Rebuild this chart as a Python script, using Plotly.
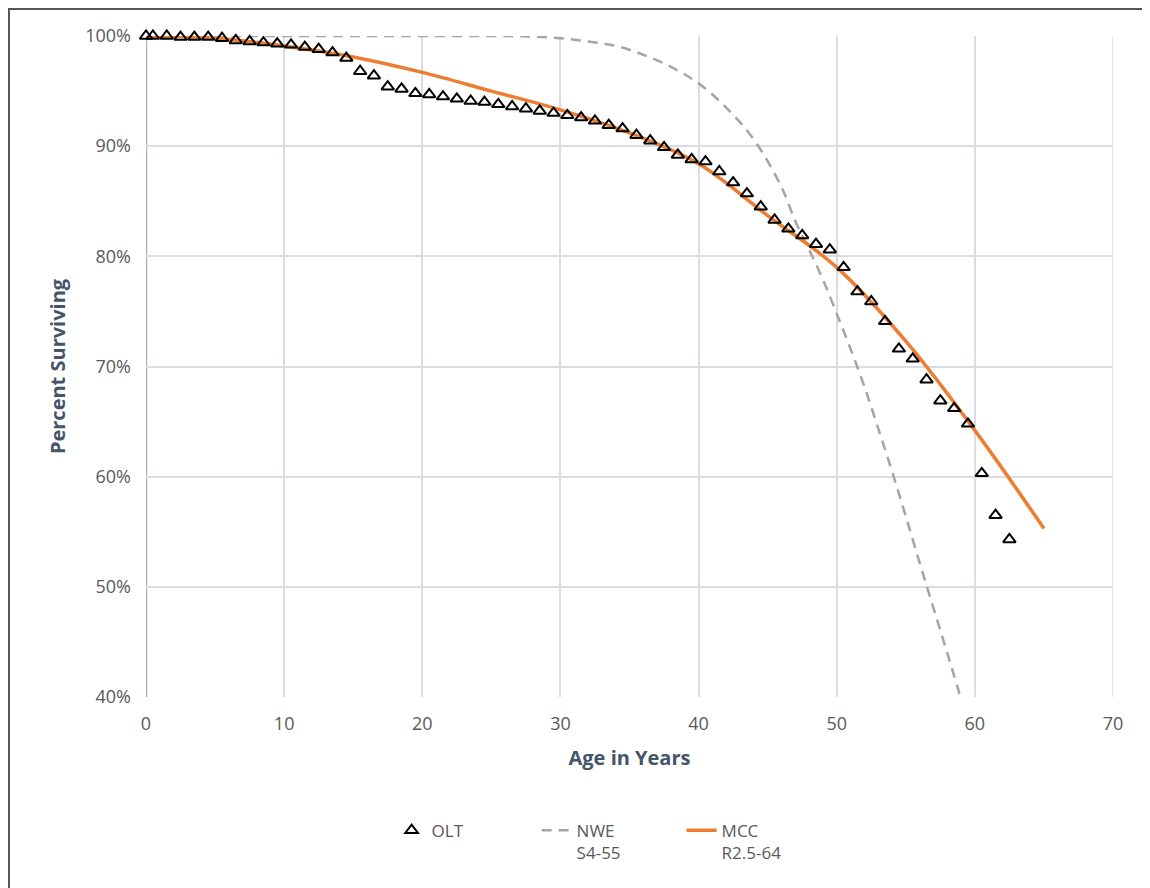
import plotly.graph_objects as go

# OLT observed life table points
olt_age = [0, 0.5] + [i + 0.5 for i in range(1, 63)]
olt_pct = [100.0, 100.0, 100.0, 99.9, 99.9, 99.9, 99.8, 99.6, 99.5, 99.4, 99.3, 99.2, 99.0, 98.8, 98.5, 98.0,
           96.8, 96.4, 95.4, 95.2, 94.8, 94.7, 94.5, 94.3, 94.1, 94.0, 93.8, 93.6, 93.4, 93.2, 93.0,
           92.8, 92.6, 92.3, 91.9, 91.6, 91.0, 90.5, 89.9, 89.2, 88.8, 88.6, 87.7, 86.7, 85.7, 84.5,
           83.3, 82.5, 81.9, 81.1, 80.6, 79.0, 76.8, 75.9, 74.1, 71.6, 70.7, 68.8, 66.9, 66.2, 64.8,
           60.3, 56.5, 54.3]

# NWE S4-55 curve
nwe_age = [0, 5, 10, 15, 20, 25, 28, 30, 32, 34, 36, 38, 40, 42, 44, 46, 47, 48, 49, 50,
           51, 52, 53, 54, 55, 56, 57, 58, 59]
nwe_pct = [100, 100, 100, 100, 100, 100, 99.95, 99.8, 99.5, 99.1, 98.3, 97.2, 95.7, 93.5, 90.6,
           86.3, 83.2, 80.6, 77.9, 74.8, 71.6, 68.2, 64.4, 60.5, 56.4, 52.2, 48.1, 44.0, 39.8]

# MCC R2.5-64 curve
mcc_age = [0, 5, 10, 15, 20, 25, 30, 35, 40, 45, 50, 55, 60, 65]
mcc_pct = [100, 99.8, 99.1, 98.1, 96.7, 95.0, 93.3, 91.2, 88.4, 83.7, 79.0, 72.3, 64.2, 55.3]

x_ticks = [0, 10, 20, 30, 40, 50, 60, 70]
y_ticks = [40, 50, 60, 70, 80, 90, 100]
y_labels = [f"{v}%" for v in y_ticks]

fig = go.Figure()
fig.add_trace(go.Scatter(
    x=nwe_age, y=nwe_pct, mode="lines", name="NWE<br>S4-55", legendrank=2,
    line=dict(color="#a5a5a5", width=2.5, dash="10px,7px", shape="spline")))
fig.add_trace(go.Scatter(
    x=mcc_age, y=mcc_pct, mode="lines", name="MCC<br>R2.5-64", legendrank=3,
    line=dict(color="#ed7d31", width=3.5, shape="spline")))
fig.add_trace(go.Scatter(
    x=olt_age, y=olt_pct, mode="markers", name="OLT", legendrank=1,
    marker=dict(symbol="triangle-up-open", size=11, color="black", line=dict(width=2, color="black")),
    cliponaxis=False))

font_family = "Open Sans, Lato, sans-serif"
W, H = 1142, 880
L, T, PW, PH = 138, 28, 967, 661
fig.update_layout(
    width=W, height=H,
    paper_bgcolor="white", plot_bgcolor="white",
    margin=dict(l=L, r=W - L - PW, t=T, b=H - T - PH),
    font=dict(family=font_family, color="#595959", size=17),
    showlegend=True,
    legend=dict(orientation="h", x=0.254, y=-0.175, xanchor="left", yanchor="top",
                font=dict(size=17, color="#595959"), valign="top",
                entrywidth=100, entrywidthmode="pixels"),
    shapes=[
        dict(type="line", xref="paper", yref="paper", x0=-L / PW, x1=(W - L) / PW,
             y0=(PH + T - 1) / PH, y1=(PH + T - 1) / PH, line=dict(color="#555555", width=2)),
        dict(type="line", xref="paper", yref="paper", x0=-(L - 1) / PW, x1=-(L - 1) / PW,
             y0=-(H - T - PH) / PH, y1=(PH + T) / PH, line=dict(color="#555555", width=2)),
    ],
)
fig.update_xaxes(
    range=[0, 70], tickvals=x_ticks, showgrid=True, gridcolor="#d9dce3", gridwidth=1.5,
    zeroline=False, showline=False, ticks="", tickfont=dict(size=18, color="#595959"),
    ticklabelstandoff=14,
    title=dict(text="<b>Age in Years</b>", font=dict(size=20, color="#44546a"), standoff=16),
)
fig.update_yaxes(
    range=[40, 100], tickvals=y_ticks, ticktext=y_labels, showgrid=True, gridcolor="#d9dce3",
    gridwidth=1.5, zeroline=False, showline=False, ticks="", tickfont=dict(size=18, color="#595959"),
    ticklabelstandoff=14,
    title=dict(text="<b>Percent Surviving</b>", font=dict(size=20, color="#44546a"), standoff=14),
)
# y-axis line at x=0 (darker) and right border gridline
fig.add_shape(type="line", xref="x", yref="paper", x0=0, x1=0, y0=0, y1=1,
              line=dict(color="#aab2bf", width=2.5), layer="below")
fig.add_shape(type="line", xref="x", yref="paper", x0=70, x1=70, y0=0, y1=1,
              line=dict(color="#d9dce3", width=1.5), layer="below")

fig.write_html("out.html")
